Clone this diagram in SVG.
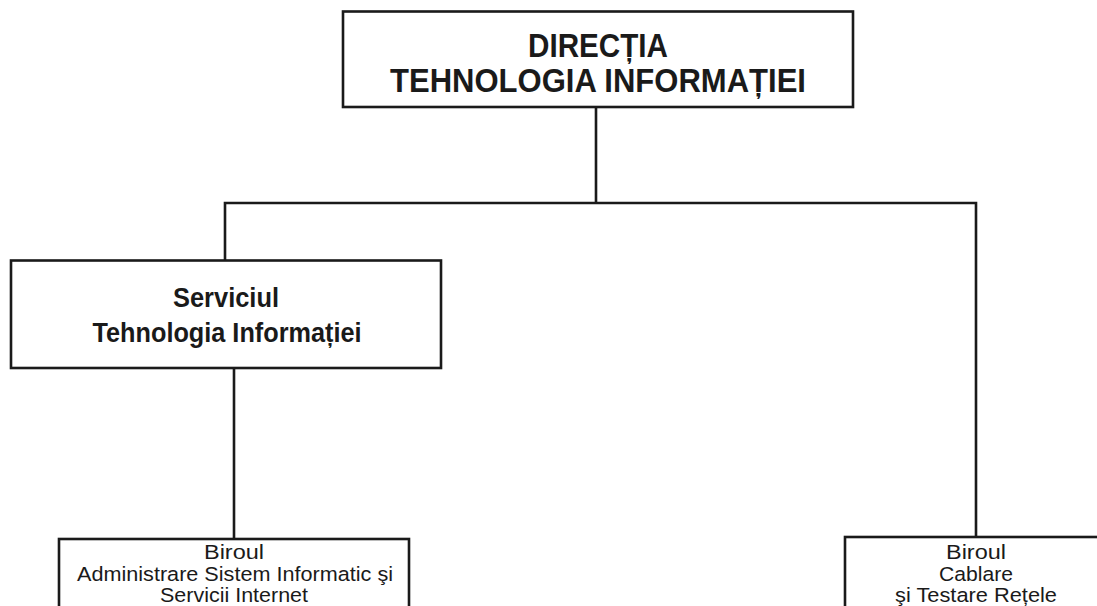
<svg xmlns="http://www.w3.org/2000/svg" width="1097" height="606" viewBox="0 0 1097 606">
<style>
.box{fill:#fff;stroke:#1a1a1a;stroke-width:2.6}
.ln{fill:none;stroke:#1a1a1a;stroke-width:2.6}
.t{font-family:"Liberation Sans",Arial,sans-serif;fill:#1a1a1a;text-anchor:middle}
.b{font-weight:bold}
.s{font-size:20.5px}
</style>
<rect width="1097" height="606" fill="#fff"/>
<g id="connectors">
<path class="ln" d="M596 107V203M225 260V203H976V537"/>
<path class="ln" d="M234 368V539"/>
</g>
<g id="directia">
<rect class="box" x="343" y="11.5" width="510" height="95.5"/>
<text class="t b" x="598" y="57" font-size="34" textLength="140" lengthAdjust="spacingAndGlyphs">DIRECȚIA</text>
<text class="t b" x="598" y="92" font-size="34" textLength="416" lengthAdjust="spacingAndGlyphs">TEHNOLOGIA INFORMAȚIEI</text>
</g>
<g id="serviciul">
<rect class="box" x="11" y="260.5" width="430" height="107.5"/>
<text class="t b" x="226" y="307" font-size="27" textLength="106" lengthAdjust="spacingAndGlyphs">Serviciul</text>
<text class="t b" x="227" y="342" font-size="27" textLength="269" lengthAdjust="spacingAndGlyphs">Tehnologia Informației</text>
</g>
<g id="birou-asi">
<rect class="box" x="59" y="539" width="350" height="80"/>
<text class="t s" x="234" y="559" textLength="60" lengthAdjust="spacingAndGlyphs">Biroul</text>
<text class="t s" x="235" y="581" textLength="316" lengthAdjust="spacingAndGlyphs">Administrare Sistem Informatic şi</text>
<text class="t s" x="234" y="602" textLength="148" lengthAdjust="spacingAndGlyphs">Servicii Internet</text>
</g>
<g id="birou-ctr">
<rect class="box" x="845" y="537" width="262" height="80"/>
<text class="t s" x="976" y="559" textLength="60" lengthAdjust="spacingAndGlyphs">Biroul</text>
<text class="t s" x="976" y="581" textLength="74" lengthAdjust="spacingAndGlyphs">Cablare</text>
<text class="t s" x="976" y="602" textLength="162" lengthAdjust="spacingAndGlyphs">şi Testare Rețele</text>
</g>
</svg>
